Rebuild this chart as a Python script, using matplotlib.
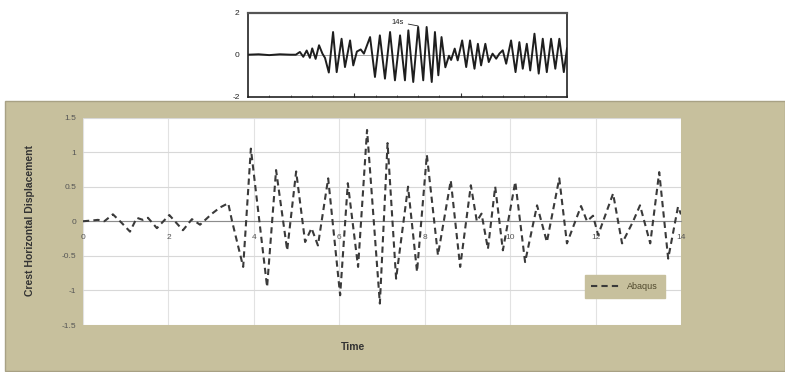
import matplotlib
matplotlib.use("Agg")
import matplotlib.pyplot as plt
from matplotlib.patches import Rectangle
from matplotlib.ticker import MultipleLocator

# Measured record (scanned trace), time in s
scan_t = [0.0, 0.5, 1.0, 1.5, 2.0, 2.25, 2.44, 2.60, 2.76, 2.91, 3.02, 3.18, 3.34, 3.50, 3.62,
          3.80, 4.00, 4.17, 4.40, 4.56, 4.80, 4.95, 5.12, 5.30, 5.45, 5.74, 5.97, 6.20, 6.44,
          6.68, 6.91, 7.15, 7.38, 7.54, 7.77, 8.00, 8.24, 8.40, 8.64, 8.79, 8.95, 9.10, 9.28,
          9.45, 9.55, 9.72, 9.86, 10.07, 10.26, 10.44, 10.65, 10.81, 10.96, 11.16, 11.32,
          11.50, 11.67, 11.82, 11.98, 12.14, 12.37, 12.58, 12.76, 12.92, 13.11, 13.27, 13.47,
          13.67, 13.86, 14.05, 14.25, 14.45, 14.64, 14.85, 15.0]
scan_v = [0.0, 0.02, -0.02, 0.02, 0.0, 0.0, 0.13, -0.10, 0.20, -0.15, 0.30, -0.20, 0.45, 0.05, -0.15,
          -0.85, 1.08, -0.83, 0.76, -0.59, 0.68, -0.51, 0.15, 0.25, 0.05, 0.84, -1.06, 0.92, -1.14,
          1.08, -1.22, 0.92, -1.22, 1.16, -1.30, 1.32, -1.22, 1.32, -1.30, 1.08, -0.98, 0.84, -0.6,
          -0.05, -0.25, 0.29, -0.27, 0.68, -0.59, 0.68, -0.67, 0.52, -0.51, 0.52, -0.35,
          0.05, -0.19, 0.05, 0.21, -0.43, 0.68, -0.83, 0.60, -0.67, 0.52, -0.75, 1.0,
          -0.9, 0.76, -0.83, 0.76, -0.67, 0.76, -0.83, 0.3]
scan_yticks = [-2, 0, 2]
scan_note = "14s"
scan_note_t, scan_note_v = 8.0, 1.32

# Abaqus crest horizontal displacement
abq_t = [0.0, 0.2, 0.35, 0.5, 0.7, 0.9, 1.1, 1.26, 1.4, 1.52, 1.73, 2.02, 2.34, 2.55, 2.74, 3.02,
         3.21, 3.40, 3.49, 3.75, 3.93, 4.31, 4.52, 4.78, 4.99, 5.2, 5.35, 5.5, 5.74, 6.02, 6.2,
         6.44, 6.65, 6.95, 7.13, 7.33, 7.61, 7.82, 8.05, 8.31, 8.61, 8.83, 9.08, 9.22, 9.33,
         9.48, 9.65, 9.83, 10.12, 10.35, 10.63, 10.86, 11.15, 11.33, 11.66, 11.80, 11.94,
         12.06, 12.41, 12.62, 12.88, 13.04, 13.28, 13.49, 13.70, 13.93, 14.0]
abq_v = [0.0, 0.01, 0.02, 0.0, 0.10, -0.02, -0.15, 0.05, 0.02, 0.05, -0.10, 0.09, -0.13, 0.03, -0.05, 0.11,
         0.20, 0.26, 0.0, -0.66, 1.05, -0.95, 0.74, -0.42, 0.72, -0.30, -0.10, -0.35, 0.62, -1.07, 0.55,
         -0.66, 1.32, -1.19, 1.13, -0.83, 0.50, -0.73, 0.96, -0.49, 0.59, -0.66, 0.52, 0.0, 0.11,
         -0.40, 0.50, -0.42, 0.57, -0.59, 0.23, -0.30, 0.62, -0.32, 0.22, 0.0, 0.08,
         -0.20, 0.40, -0.32, 0.0, 0.23, -0.32, 0.71, -0.54, 0.21, 0.10]
x_ticks = [0, 2, 4, 6, 8, 10, 12, 14]
y_ticks = [-1.5, -1, -0.5, 0, 0.5, 1, 1.5]
y_ticklabels = ["-1.5", "-1", "-0.5", "0", "0.5", "1", "1.5"]
series_name = "Abaqus"
x_title = "Time"
y_title = "Crest Horizontal Displacement"

TAN = "#C7C09D"
plt.rcParams["font.family"] = ["Liberation Sans", "DejaVu Sans"]

W, H = 785, 372
fig = plt.figure(figsize=(W / 100, H / 100), dpi=100)
fig.patch.set_facecolor("white")

def fx(px):
    return px / W

def fy(py):
    return 1 - py / H

# chart area background
fig.patches.append(Rectangle((fx(5), fy(371)), fx(780), (371 - 101) / H,
                             transform=fig.transFigure, facecolor=TAN,
                             edgecolor="#A8A184", linewidth=1.0, zorder=-5))

# main plot
ax = fig.add_axes([fx(83), fy(325), fx(681 - 83), (325 - 117.5) / H])
ax.set_zorder(2)
ax.set_facecolor("#FFFFFF")
ax.set_xlim(0, 14)
ax.set_ylim(-1.5, 1.5)
ax.set_yticks(y_ticks)
ax.set_yticklabels(y_ticklabels)
ax.set_xticks(x_ticks)
ax.set_xticklabels([str(v) for v in x_ticks])
for s in ["top", "right", "left"]:
    ax.spines[s].set_visible(False)
ax.spines["bottom"].set_position(("data", 0))
ax.spines["bottom"].set_color("#8C8C8C")
ax.spines["bottom"].set_linewidth(0.8)
ax.tick_params(axis="y", length=0, pad=5, labelsize=6, labelcolor="#555555")
ax.tick_params(axis="x", length=0, pad=9, labelsize=6, labelcolor="#555555")
ax.grid(axis="y", color="#D8D8D8", linewidth=0.8)
ax.grid(axis="x", color="#E2E2E2", linewidth=0.8)
ax.set_axisbelow(True)

ax.plot(abq_t, abq_v, color="#3A3A3A", linewidth=1.5, linestyle=(0, (3, 2)),
        label=series_name, zorder=3)

leg = ax.legend(loc="lower right", bbox_to_anchor=(fx(665 - 83) / fx(598), (325 - 298) / (325 - 117.5)),
                borderaxespad=0, frameon=True, fancybox=False, fontsize=6.5, handlelength=3.3,
                borderpad=0.75, handletextpad=0.7)
leg.get_frame().set_facecolor(TAN)
leg.get_frame().set_edgecolor(TAN)
leg.get_frame().set_alpha(1)
for txt in leg.get_texts():
    txt.set_color("#4F482C")

fig.text(fx(30), fy(221), y_title, rotation=90, ha="center", va="center",
         fontsize=7.5, fontweight="bold", color="#333333")
fig.text(fx(353), fy(347), x_title, ha="center", va="center",
         fontsize=7.5, fontweight="bold", color="#333333")

# scanned record inset
ax2 = fig.add_axes([fx(248), fy(96.7), fx(567 - 248), (96.7 - 12.7) / H])
ax2.set_zorder(3)
ax2.set_xlim(0, 15)
ax2.set_ylim(-2, 2)
ax2.axhline(0, color="#9A9A9A", linewidth=0.6, zorder=1)
ax2.plot(scan_t, scan_v, color="#1E1E1E", linewidth=1.4, zorder=2)
for s in ax2.spines.values():
    s.set_linewidth(1.2)
    s.set_color("#222222")
ax2.spines["top"].set_color("#555555")
ax2.spines["top"].set_linewidth(1.6)
ax2.set_yticks(scan_yticks)
ax2.set_yticklabels([str(v) for v in scan_yticks])
ax2.set_xticks([5, 10])
ax2.set_xticklabels([])
ax2.xaxis.set_minor_locator(MultipleLocator(1))
ax2.tick_params(axis="x", which="major", direction="in", length=3, width=0.8, color="#333333")
ax2.tick_params(axis="x", which="minor", direction="in", length=1.5, width=0.6, color="#555555")
ax2.tick_params(axis="y", direction="in", length=0, pad=6, labelsize=6, labelcolor="#222222")
ax2.annotate(scan_note, xy=(scan_note_t, scan_note_v + 0.05), xytext=(7.05, 1.55),
             fontsize=5.5, color="#222222", ha="center", va="center",
             arrowprops=dict(arrowstyle="-", color="#222222", linewidth=0.6,
                             shrinkA=1, shrinkB=0))

fig.savefig("out.png", dpi=100, facecolor="white")
